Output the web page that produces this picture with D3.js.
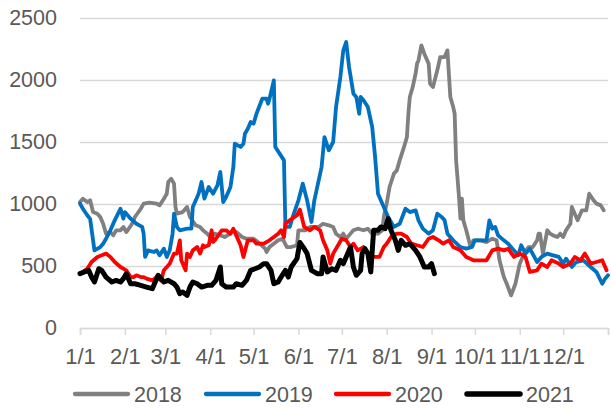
<!DOCTYPE html>
<html>
<head>
<meta charset="utf-8">
<script src="https://cdn.jsdelivr.net/npm/d3@7"></script>
<style>
  body { margin: 0; background: #fff; }
  svg text { font-family: "Liberation Sans", Arial, sans-serif; fill: #595959; }
</style>
</head>
<body>
<div id="chart"></div>
<script>
// Tick marks (day of year) and their labels
const monthStarts = [0, 31, 59, 90, 120, 151, 181, 212, 243, 273, 304, 334, 365];
const monthLabels = ["1/1", "2/1", "3/1", "4/1", "5/1", "6/1", "7/1", "8/1", "9/1", "10/1", "11/1", "12/1", ""];
const yTicks = [0, 500, 1000, 1500, 2000, 2500];

// Series values: [day of year, value]
const s2018 = [[0,1016],[2,1043],[5,1016],[7,1030],[9,935],[12,922],[14,895],[16,841],[18,761],[21,774],[23,747],[25,788],[28,788],[30,815],[32,774],[33,788],[36,841],[38,895],[42,962],[44,1003],[48,1011],[53,1003],[55,989],[58,1043],[60,1083],[61,1177],[63,1204],[65,1164],[66,976],[67,922],[71,935],[74,976],[76,895],[80,828],[83,815],[85,788],[88,761],[90,734],[93,761],[97,747],[100,734],[104,761],[106,788],[108,774],[112,734],[115,720],[120,720],[123,693],[128,640],[129,613],[131,653],[134,680],[137,707],[140,720],[143,653],[146,653],[150,667],[151,788],[156,788],[159,815],[162,815],[165,815],[168,841],[172,828],[175,815],[177,761],[180,734],[182,761],[184,720],[187,761],[189,788],[192,801],[196,788],[199,801],[202,761],[206,761],[209,788],[210,895],[212,1003],[214,1137],[217,1245],[219,1271],[221,1352],[224,1460],[226,1540],[227,1728],[228,1863],[230,1943],[232,2051],[233,2132],[234,2158],[236,2279],[238,2212],[241,2132],[242,1970],[244,1943],[247,2078],[249,2185],[252,2185],[254,2239],[255,2051],[256,1863],[258,1782],[259,1728],[260,1352],[262,1056],[263,882],[264,1043],[265,868],[267,788],[270,653],[272,707],[277,707],[281,693],[285,720],[288,707],[290,546],[293,411],[295,357],[298,263],[301,357],[304,519],[307,600],[310,653],[313,653],[316,707],[317,761],[318,761],[320,600],[323,788],[325,761],[327,747],[330,734],[332,761],[334,734],[336,788],[339,841],[340,976],[342,922],[344,868],[347,949],[350,949],[352,1083],[355,1030],[357,1003],[360,989],[362,949]];

const s2019 = [[0,1003],[2,962],[5,909],[7,880],[10,626],[14,653],[16,680],[18,720],[21,788],[24,868],[28,962],[30,882],[31,935],[35,882],[39,841],[43,815],[44,760],[45,573],[47,626],[51,613],[53,626],[55,586],[58,640],[60,573],[62,626],[64,760],[65,922],[67,815],[69,788],[74,801],[77,801],[78,976],[82,1083],[84,1177],[86,1043],[89,1137],[92,1083],[95,1150],[97,1258],[99,1016],[101,1056],[104,1137],[106,1298],[107,1486],[111,1460],[113,1486],[114,1567],[116,1607],[118,1661],[120,1648],[122,1728],[126,1849],[129,1849],[130,1809],[131,1849],[134,1997],[135,1460],[138,1406],[141,1352],[142,815],[145,815],[147,895],[151,1030],[154,1164],[157,1030],[160,855],[162,1030],[165,1191],[167,1298],[169,1540],[172,1433],[175,1500],[177,1782],[180,2024],[182,2239],[184,2306],[186,2105],[189,1890],[191,1863],[193,1728],[194,1863],[196,1836],[199,1782],[202,1621],[204,1379],[206,1083],[210,976],[213,895],[217,815],[221,841],[225,962],[228,935],[232,949],[234,868],[237,801],[241,761],[244,788],[247,922],[250,895],[252,870],[254,761],[258,707],[263,653],[267,640],[271,653],[273,707],[277,707],[281,707],[283,868],[285,801],[287,815],[289,747],[293,707],[296,680],[300,626],[303,586],[305,667],[308,600],[311,640],[316,532],[319,573],[323,600],[327,586],[331,573],[334,519],[336,559],[340,492],[343,532],[348,546],[353,492],[357,452],[361,357],[363,398],[365,425]];

const s2020 = [[0,438],[2,452],[5,478],[8,532],[12,573],[15,586],[18,600],[21,573],[24,532],[28,492],[32,465],[35,411],[37,411],[39,425],[42,411],[44,411],[46,398],[50,384],[53,411],[56,384],[58,465],[60,492],[62,519],[65,600],[67,600],[69,707],[70,546],[73,465],[74,600],[76,573],[78,626],[81,653],[83,600],[85,667],[86,653],[89,667],[91,788],[92,694],[94,720],[98,788],[101,788],[104,761],[106,801],[108,747],[111,667],[113,573],[116,707],[120,707],[122,680],[127,680],[131,707],[137,761],[139,788],[141,734],[142,841],[145,868],[150,909],[152,955],[155,815],[159,788],[162,815],[166,788],[168,707],[171,626],[173,519],[175,600],[179,680],[181,720],[184,707],[187,653],[189,680],[192,626],[196,653],[199,600],[203,573],[207,573],[210,653],[212,680],[215,734],[219,761],[222,761],[226,734],[229,680],[233,667],[237,653],[241,720],[244,734],[248,707],[251,680],[255,707],[258,653],[263,626],[267,573],[272,546],[277,546],[281,546],[285,626],[289,640],[293,626],[296,640],[300,573],[304,600],[308,573],[311,452],[316,465],[319,519],[323,492],[326,546],[331,519],[334,492],[339,519],[342,573],[346,546],[349,600],[353,519],[357,532],[361,546],[364,465]];

const s2021 = [[0,438],[3,452],[6,465],[8,411],[10,371],[13,478],[15,465],[18,411],[22,371],[25,384],[28,371],[30,398],[32,438],[35,357],[38,357],[42,344],[46,330],[50,317],[52,371],[54,425],[58,371],[61,384],[65,357],[67,330],[69,277],[71,290],[74,263],[76,330],[78,371],[81,357],[84,330],[88,344],[91,344],[94,384],[97,492],[98,357],[101,330],[106,330],[108,357],[112,344],[115,384],[118,465],[121,478],[124,492],[127,519],[129,519],[132,465],[134,357],[137,371],[139,411],[142,465],[144,411],[146,492],[150,559],[152,690],[155,640],[157,600],[160,465],[164,438],[167,438],[168,573],[171,452],[174,478],[177,465],[180,546],[182,519],[184,573],[187,653],[189,492],[191,425],[194,465],[195,600],[197,640],[199,600],[201,452],[203,788],[206,788],[208,815],[211,801],[213,882],[215,788],[218,707],[220,626],[222,707],[225,667],[228,680],[232,626],[235,573],[238,492],[241,492],[243,519],[245,438]];

const series = [
    { name: "2018", data: s2018, color: "#808080", width: 3.8 },
    { name: "2019", data: s2019, color: "#0070C0", width: 3.8 },
    { name: "2020", data: s2020, color: "#FF0000", width: 3.8 },
    { name: "2021", data: s2021, color: "#000000", width: 5 }
];

const W = 611, H = 409;
const plot = { left: 80, right: 608, top: 18, bottom: 328 };

const svg = d3.select("#chart").append("svg")
    .attr("width", W)
    .attr("height", H);

const x = d3.scaleLinear().domain([0, 365]).range([plot.left, plot.right]);
const y = d3.scaleLinear().domain([0, 2500]).range([plot.bottom, plot.top]);

// Y axis with grid lines
const yAxis = svg.append("g")
    .attr("transform", `translate(${plot.left},0)`)
    .call(d3.axisLeft(y).tickValues(yTicks).tickFormat(d3.format("d"))
        .tickSize(-(plot.right - plot.left)).tickPadding(23));
yAxis.select(".domain").remove();
yAxis.selectAll(".tick line").attr("stroke", "#d9d9d9").attr("stroke-width", 1.5);
yAxis.selectAll("text").style("font-size", "21.5px");

// X axis
const xAxis = svg.append("g")
    .attr("transform", `translate(0,${plot.bottom})`)
    .call(d3.axisBottom(x).tickValues(monthStarts).tickSize(7).tickPadding(13)
        .tickFormat((d, i) => monthLabels[i]));
xAxis.select(".domain").attr("stroke", "#d9d9d9").attr("stroke-width", 1.5);
xAxis.selectAll(".tick line").attr("stroke", "#d9d9d9").attr("stroke-width", 1.5);
xAxis.selectAll("text").style("font-size", "22px");

// Lines
const line = d3.line()
    .x(d => x(d[0]))
    .y(d => y(d[1]));

svg.selectAll(".series")
    .data(series)
    .enter()
    .append("path")
    .attr("class", "series")
    .attr("d", d => line(d.data))
    .attr("fill", "none")
    .attr("stroke", d => d.color)
    .attr("stroke-width", d => d.width)
    .attr("stroke-linejoin", "round")
    .attr("stroke-linecap", "round");

// Legend
const legendX = [75, 206, 336, 467];
const legend = svg.selectAll(".legend")
    .data(series)
    .enter()
    .append("g")
    .attr("class", "legend")
    .attr("transform", (d, i) => `translate(${legendX[i]},394)`);

legend.append("line")
    .attr("x1", 0)
    .attr("x2", 53)
    .attr("stroke", d => d.color)
    .attr("stroke-width", d => d.width + 0.5)
    .attr("stroke-linecap", "round");

legend.append("text")
    .attr("x", 59)
    .attr("dy", "0.36em")
    .style("font-size", "21.5px")
    .text(d => d.name);
</script>
</body>
</html>
